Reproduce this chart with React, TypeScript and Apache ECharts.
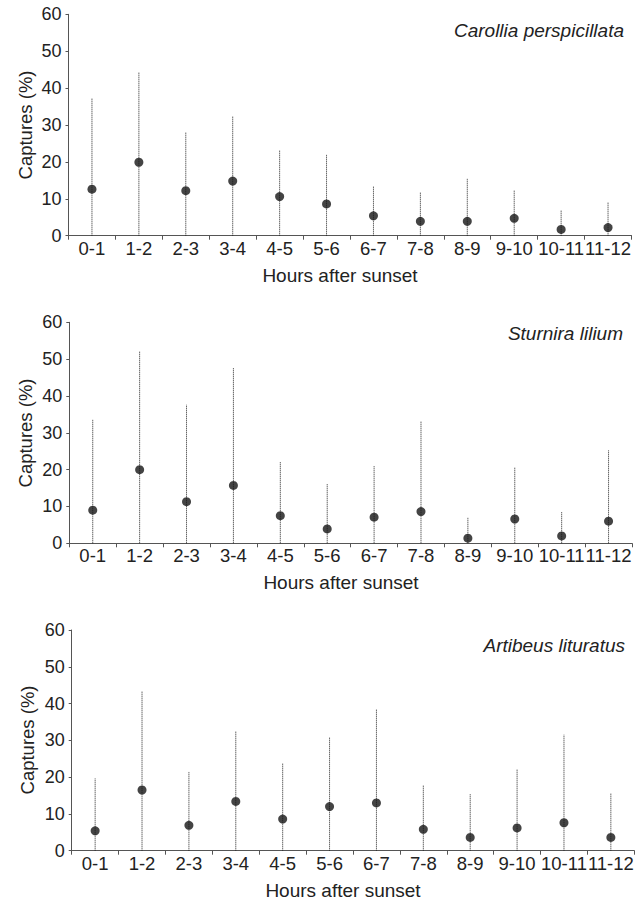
import React, { useEffect, useRef } from "react";
import * as echarts from "echarts";

const categories = ["0-1", "1-2", "2-3", "3-4", "4-5", "5-6", "6-7", "7-8", "8-9", "9-10", "10-11", "11-12"];
const yTicks = { min: 0, max: 60, interval: 10 };

const species = ["Carollia perspicillata", "Sturnira lilium", "Artibeus lituratus"];

const carolliaMean = [12.6, 19.9, 12.2, 14.8, 10.6, 8.6, 5.4, 3.9, 3.9, 4.7, 1.7, 2.2];
const carolliaUpper = [37.2, 44.4, 28.0, 32.4, 23.2, 21.9, 13.3, 11.7, 15.4, 12.4, 6.8, 9.2];

const sturniraMean = [9.0, 20.0, 11.3, 15.7, 7.5, 3.9, 7.1, 8.6, 1.4, 6.6, 2.0, 6.0];
const sturniraUpper = [33.7, 52.2, 37.6, 47.7, 22.1, 16.2, 21.1, 33.2, 7.1, 20.7, 8.6, 25.2];

const artibeusMean = [5.4, 16.5, 6.9, 13.4, 8.6, 12.0, 13.0, 5.8, 3.6, 6.2, 7.6, 3.6];
const artibeusUpper = [19.7, 43.5, 21.4, 32.5, 23.9, 30.8, 38.5, 17.9, 15.4, 22.2, 31.6, 15.6];

const lowerBound = 0;

const means = [carolliaMean, sturniraMean, artibeusMean];
const uppers = [carolliaUpper, sturniraUpper, artibeusUpper];

const FONT = "'Liberation Sans', Arial, Helvetica, sans-serif";
const TEXT = "#222";
const AXIS = "#555";

const grids = [
  { left: 68.5, top: 14.3, width: 563, height: 221.4 },
  { left: 69.3, top: 322.3, width: 562.7, height: 221 },
  { left: 71.7, top: 630, width: 562.6, height: 220.7 },
];
const yNamePos = [
  { x: 25, y: 125 },
  { x: 25, y: 433 },
  { x: 27.5, y: 740 },
];
const xNamePos = [
  { x: 340, y: 275 },
  { x: 341, y: 582 },
  { x: 343, y: 890 },
];
const titlePos = [
  { x: 624, y: 30 },
  { x: 623, y: 333 },
  { x: 625, y: 645 },
];

export default function App() {
  const ref = useRef<HTMLDivElement>(null);
  useEffect(() => {
    if (!ref.current) return;
    const chart = echarts.init(ref.current, null, { renderer: "svg" });
    const xAxis: any[] = [];
    const yAxis: any[] = [];
    const series: any[] = [];
    const graphic: any[] = [];
    grids.forEach((g, i) => {
      xAxis.push({
        type: "category",
        gridIndex: i,
        data: categories,
        boundaryGap: true,
        axisLine: { show: true, lineStyle: { color: AXIS, width: 1 } },
        axisTick: { show: true, length: 4, inside: false, alignWithLabel: false, lineStyle: { color: AXIS } },
        axisLabel: { interval: 0, margin: 3, fontSize: 18.5, color: TEXT, fontFamily: FONT },
        splitLine: { show: false },
      });
      yAxis.push({
        type: "value",
        gridIndex: i,
        min: yTicks.min,
        max: yTicks.max,
        interval: yTicks.interval,
        axisLine: { show: true, lineStyle: { color: AXIS, width: 1 } },
        axisTick: { show: true, length: 3, inside: false, lineStyle: { color: AXIS } },
        axisLabel: { margin: 7, fontSize: 18, color: TEXT, fontFamily: FONT },
        splitLine: { show: false },
      });
      series.push({
        type: "custom",
        xAxisIndex: i,
        yAxisIndex: i,
        data: uppers[i].map((u, k) => [k, lowerBound, u]),
        encode: { x: 0, y: [1, 2] },
        renderItem: (_params: any, api: any) => {
          const x = api.value(0);
          const lo = api.coord([x, api.value(1)]);
          const hi = api.coord([x, api.value(2)]);
          return {
            type: "line",
            shape: { x1: lo[0], y1: lo[1], x2: hi[0], y2: hi[1] },
            style: { stroke: "#222", lineWidth: 1, lineDash: [1, 1] },
          };
        },
        z: 2,
      });
      series.push({
        type: "scatter",
        xAxisIndex: i,
        yAxisIndex: i,
        data: means[i],
        symbol: "circle",
        symbolSize: 9,
        itemStyle: { color: "#151515" },
        z: 3,
      });
      graphic.push({
        type: "text",
        x: yNamePos[i].x,
        y: yNamePos[i].y,
        rotation: Math.PI / 2,
        style: {
          text: "Captures (%)",
          align: "center",
          verticalAlign: "middle",
          fontSize: 18.5,
          fontFamily: FONT,
          fill: TEXT,
        },
      });
      graphic.push({
        type: "text",
        x: xNamePos[i].x,
        y: xNamePos[i].y,
        style: {
          text: "Hours after sunset",
          align: "center",
          verticalAlign: "middle",
          fontSize: 19,
          fontFamily: FONT,
          fill: TEXT,
        },
      });
      graphic.push({
        type: "text",
        x: titlePos[i].x,
        y: titlePos[i].y,
        style: {
          text: species[i],
          align: "right",
          verticalAlign: "middle",
          fontSize: 19,
          fontStyle: "italic",
          fontFamily: FONT,
          fill: TEXT,
        },
      });
    });
    chart.setOption({
      animation: false,
      backgroundColor: "#fff",
      grid: grids.map((g) => ({ ...g, containLabel: false })),
      xAxis,
      yAxis,
      series,
      graphic,
    });
    return () => chart.dispose();
  }, []);
  return (
    <div
      ref={ref}
      style={{ position: "absolute", left: 0, top: 0, width: 644, height: 899, background: "#fff" }}
    />
  );
}
